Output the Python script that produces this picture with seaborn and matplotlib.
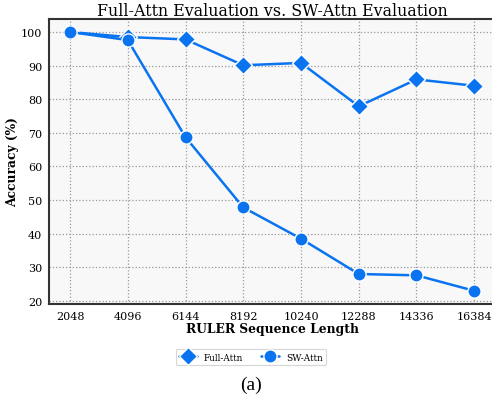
import matplotlib
matplotlib.use("Agg")
import matplotlib.pyplot as plt
import seaborn as sns
import pandas as pd

seq_lengths = [2048, 4096, 6144, 8192, 10240, 12288, 14336, 16384]
full_attn = [100.0, 98.5, 97.8, 90.1, 90.8, 77.9, 85.9, 84.0]
sw_attn = [100.0, 97.6, 68.7, 47.8, 38.5, 28.0, 27.6, 23.0]
series_names = ["Full-Attn", "SW-Attn"]

df = pd.DataFrame({
    "x": seq_lengths * 2,
    "acc": full_attn + sw_attn,
    "Method": [series_names[0]] * len(seq_lengths) + [series_names[1]] * len(seq_lengths),
})

sns.set_theme(style="whitegrid")
plt.rcParams["font.family"] = ["DejaVu Serif"]
plt.rcParams["text.color"] = "black"
plt.rcParams["axes.labelcolor"] = "black"
plt.rcParams["xtick.color"] = "black"
plt.rcParams["ytick.color"] = "black"

fig = plt.figure(figsize=(4.92, 4.06), dpi=100)
ax = fig.add_axes([0.0996, 0.249, 0.907, 0.702])
ax.set_facecolor("#f8f8f8")

color = "#0a74f0"
sns.lineplot(data=df, x="x", y="acc", hue="Method", style="Method",
             markers={"Full-Attn": "D", "SW-Attn": "o"}, dashes=False,
             palette=[color, color], markersize=9.5, linewidth=1.8,
             markeredgecolor="white", markeredgewidth=1.0, ax=ax, legend=True)

ax.set_xticks(seq_lengths)
ax.set_xticklabels([str(v) for v in seq_lengths], fontsize=8)
ax.set_yticks(range(20, 101, 10))
ax.tick_params(axis="y", labelsize=8)
ax.set_xlim(2048 - 745, 16384 + 745)
ax.set_ylim(19.1, 103.9)

ax.grid(True, linestyle=":", color="#999999", linewidth=0.9)
for s in ax.spines.values():
    s.set_color("#333333")
    s.set_linewidth(1.5)
ax.tick_params(axis="both", direction="out", length=3, width=1, color="#333333", pad=2)

ax.set_xlabel("RULER Sequence Length", fontsize=8.8, fontweight="bold", labelpad=1)
ax.set_ylabel("Accuracy (%)", fontsize=8.8, fontweight="bold")
ax.yaxis.set_label_coords(-0.067, 0.5)
ax.set_title("Full-Attn Evaluation vs. SW-Attn Evaluation", fontsize=11.4, pad=3)

handles, labels = ax.get_legend_handles_labels()
leg = ax.legend(handles, labels, loc="center", bbox_to_anchor=(0.51, 0.118),
                bbox_transform=fig.transFigure, ncol=2, fontsize=6.4,
                frameon=True, handlelength=2.0, columnspacing=2.0,
                borderpad=0.4, markerscale=1.0)
leg.get_frame().set_edgecolor("#cccccc")
leg.get_frame().set_linewidth(0.8)

fig.text(0.51, 0.03, "(a)", ha="center", va="bottom", fontsize=14,
         family="Liberation Serif")

fig.savefig("out.png", dpi=100)
